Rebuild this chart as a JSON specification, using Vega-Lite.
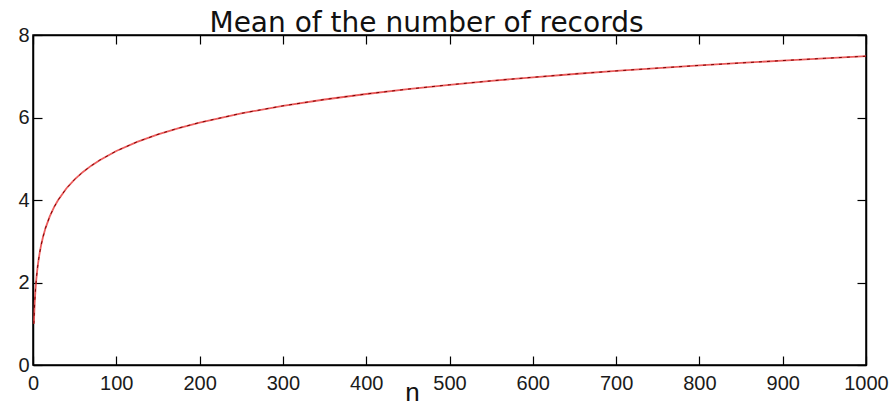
{
  "$schema": "https://vega.github.io/schema/vega-lite/v6.json",
  "width": 833,
  "height": 330,
  "autosize": "none",
  "padding": {"left": 33, "top": 35, "right": 29, "bottom": 40},
  "background": "white",
  "config": {
    "view": {"stroke": "black", "strokeWidth": 1.5},
    "font": "Liberation Sans",
    "axis": {
      "grid": false,
      "domainColor": "black",
      "domainWidth": 1.5,
      "tickColor": "black",
      "tickWidth": 1.2,
      "tickSize": -9,
      "labelFont": "Liberation Sans",
      "labelFontSize": 20,
      "labelColor": "#1a1a1a",
      "labelFlush": false,
      "labelOverlap": false,
      "format": "d"
    }
  },
  "data": {
    "values": [
      {"n": 1, "mean": 1.0},
      {"n": 2, "mean": 1.5},
      {"n": 3, "mean": 1.8333},
      {"n": 4, "mean": 2.0833},
      {"n": 5, "mean": 2.2833},
      {"n": 6, "mean": 2.45},
      {"n": 7, "mean": 2.5929},
      {"n": 8, "mean": 2.7179},
      {"n": 9, "mean": 2.829},
      {"n": 10, "mean": 2.929},
      {"n": 12, "mean": 3.1032},
      {"n": 15, "mean": 3.3182},
      {"n": 20, "mean": 3.5977},
      {"n": 25, "mean": 3.816},
      {"n": 30, "mean": 3.995},
      {"n": 40, "mean": 4.2785},
      {"n": 50, "mean": 4.4992},
      {"n": 60, "mean": 4.6799},
      {"n": 70, "mean": 4.8328},
      {"n": 80, "mean": 4.9655},
      {"n": 100, "mean": 5.1874},
      {"n": 125, "mean": 5.4095},
      {"n": 150, "mean": 5.5912},
      {"n": 175, "mean": 5.7449},
      {"n": 200, "mean": 5.878},
      {"n": 250, "mean": 6.1007},
      {"n": 300, "mean": 6.2827},
      {"n": 350, "mean": 6.4366},
      {"n": 400, "mean": 6.5699},
      {"n": 450, "mean": 6.6876},
      {"n": 500, "mean": 6.7928},
      {"n": 550, "mean": 6.8881},
      {"n": 600, "mean": 6.975},
      {"n": 650, "mean": 7.055},
      {"n": 700, "mean": 7.129},
      {"n": 750, "mean": 7.198},
      {"n": 800, "mean": 7.2625},
      {"n": 850, "mean": 7.323},
      {"n": 900, "mean": 7.3802},
      {"n": 950, "mean": 7.4342},
      {"n": 1000, "mean": 7.4855}
    ]
  },
  "layer": [
    {
      "mark": {"type": "line", "color": "#e84040", "strokeWidth": 1.8, "opacity": 0.85},
      "encoding": {
        "x": {
          "field": "n", "type": "quantitative",
          "scale": {"domain": [0, 1000], "nice": false},
          "axis": {
            "orient": "bottom",
            "values": [0, 100, 200, 300, 400, 500, 600, 700, 800, 900, 1000],
            "labelPadding": 17,
            "title": "n",
            "titleFont": "Liberation Sans",
            "titleFontSize": 26,
            "titleFontWeight": "normal",
            "titleColor": "#111111",
            "titleX": 379,
            "titleY": 35,
            "titleBaseline": "alphabetic",
            "titleAnchor": "middle"
          }
        },
        "y": {
          "field": "mean", "type": "quantitative",
          "scale": {"domain": [0, 8], "nice": false},
          "axis": {
            "orient": "left",
            "values": [0, 2, 4, 6, 8],
            "labelPadding": 13,
            "title": null
          }
        }
      }
    },
    {
      "mark": {"type": "line", "color": "#7a0000", "strokeWidth": 1, "strokeDash": [3, 5]},
      "encoding": {
        "x": {
          "field": "n", "type": "quantitative",
          "scale": {"domain": [0, 1000], "nice": false},
          "axis": {
            "orient": "top",
            "values": [0, 100, 200, 300, 400, 500, 600, 700, 800, 900, 1000],
            "labels": false,
            "title": "Mean of the number of records",
            "titleFont": "DejaVu Sans",
            "titleFontSize": 28,
            "titleFontWeight": "normal",
            "titleColor": "#111111",
            "titleX": 393,
            "titleY": -4,
            "titleBaseline": "alphabetic",
            "titleAnchor": "middle"
          }
        },
        "y": {
          "field": "mean", "type": "quantitative",
          "scale": {"domain": [0, 8], "nice": false},
          "axis": {
            "orient": "right",
            "values": [0, 2, 4, 6, 8],
            "labels": false,
            "title": null
          }
        }
      }
    }
  ],
  "resolve": {"scale": {"x": "independent", "y": "independent"}}
}
